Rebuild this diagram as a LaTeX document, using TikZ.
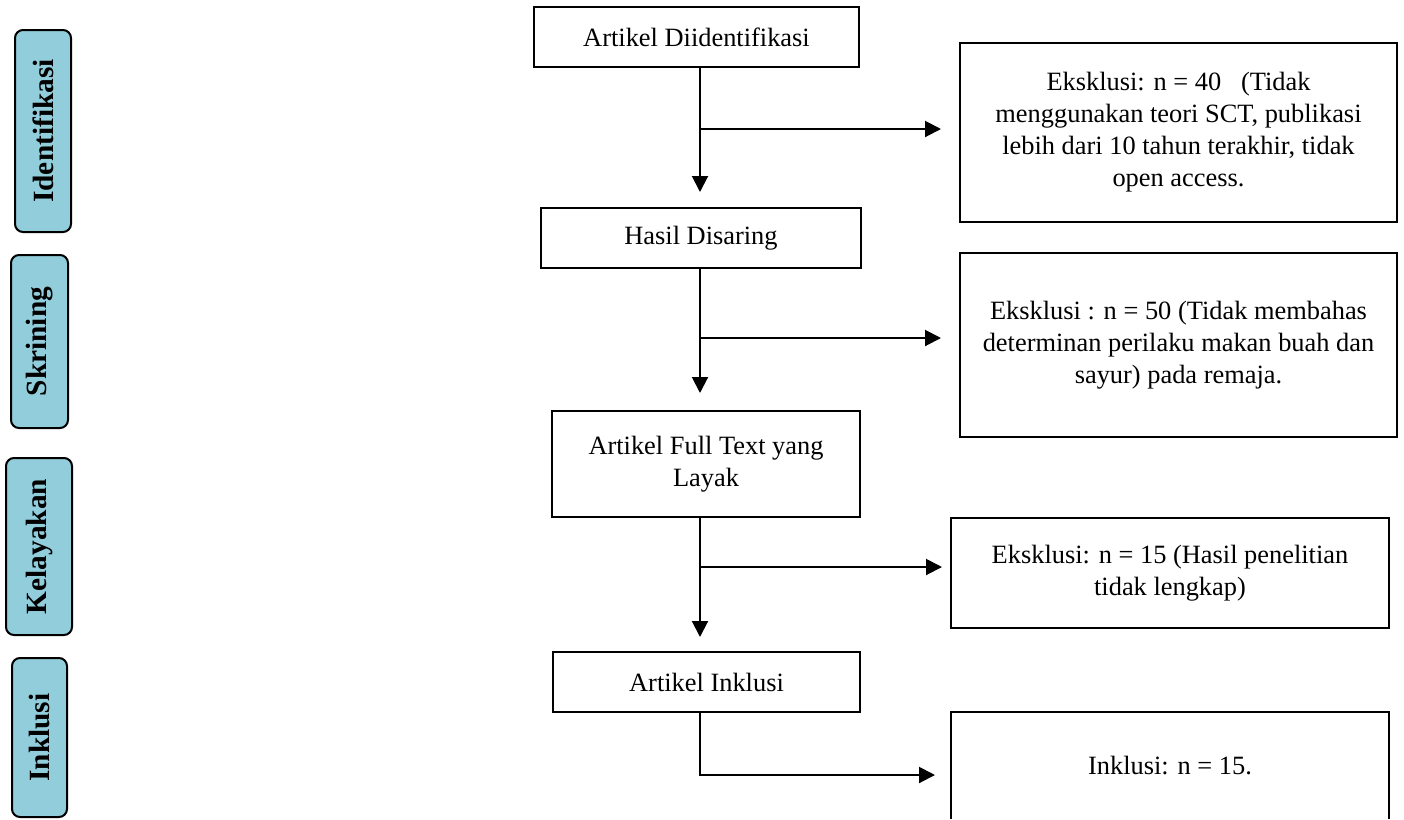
\documentclass[tikz,border=0pt]{standalone}
\usepackage{fontspec}
\setmainfont{Liberation Serif}
\usetikzlibrary{arrows.meta,calc}
\definecolor{lblue}{RGB}{146,205,220}
\tikzset{
  box/.style={draw, line width=1.5pt, inner sep=0pt, outer sep=0pt, align=center,
    font=\fontsize{19.8}{24}\selectfont},
  lbl/.style={draw, line width=1.5pt, fill=lblue, rounded corners=6pt, rotate=90,
    inner sep=0pt, outer sep=0pt, font=\fontsize{22}{26}\selectfont\bfseries},
  arr/.style={line width=1.5pt, -{Triangle[length=12pt,width=12pt]}},
}
\begin{document}
\begin{tikzpicture}[x=0.75pt,y=-0.75pt]
\useasboundingbox (0,0) rectangle (1404,819);
% phase labels
\node[lbl, minimum width=151.5pt, minimum height=42pt] (L1) at (43,131) {Identifikasi};
\node[lbl, minimum width=129.75pt, minimum height=42.75pt] (L2) at (39.5,341.5) {Skrining};
\node[lbl, minimum width=132.75pt, minimum height=49.5pt] (L3) at (39,546.5) {Kelayakan};
\node[lbl, minimum width=119.25pt, minimum height=41.25pt] (L4) at (39.5,737.5) {Inklusi};
% main column
\node[box, minimum width=243.75pt, minimum height=45pt] (A) at (696.5,37) {Artikel Diidentifikasi};
\node[box, minimum width=240pt, minimum height=45pt] (B) at (701,238) {Hasil Disaring};
\node[box, minimum width=231pt, minimum height=79.5pt] (C) at (706,464) {Artikel Full Text yang\\Layak};
\node[box, minimum width=230.25pt, minimum height=45pt] (D) at (706.5,682) {Artikel Inklusi};
% right column
\node[box, minimum width=327.75pt, minimum height=134.25pt] (E1) at (1178.5,132.5)
  {Eksklusi: n = 40\ \ \ (Tidak\\menggunakan teori SCT, publikasi\\lebih dari 10 tahun terakhir, tidak\\open access.};
\node[box, minimum width=327.75pt, minimum height=138pt] (E2) at (1178.5,345)
  {Eksklusi : n = 50 (Tidak membahas\\determinan perilaku makan buah dan\\sayur) pada remaja.};
\node[box, minimum width=328.5pt, minimum height=82.5pt] (E3) at (1170,573)
  {Eksklusi: n = 15 (Hasil penelitian\\tidak lengkap)};
\node[box, draw=none, minimum width=328.5pt, minimum height=80.25pt] (E4) at (1170,765.5)
  {Inklusi: n = 15.};
\draw[line width=1.5pt] (E4.south west) -- (E4.north west) -- (E4.north east) -- (E4.south east);
% connectors
\coordinate (t) at (700,0);
\coordinate (j1) at (700,129);
\coordinate (j2) at (700,338);
\coordinate (j3) at (700,567);
\coordinate (j4) at (700,775);
\draw[arr, shorten >=12pt] (A.south -| t) -- (B.north -| t);
\draw[arr, shorten >=14.25pt] (j1) -- (j1 -| E1.west);
\draw[arr, shorten >=13.5pt] (B.south -| t) -- (C.north -| t);
\draw[arr, shorten >=14.25pt] (j2) -- (j2 -| E2.west);
\draw[arr, shorten >=11.25pt] (C.south -| t) -- (D.north -| t);
\draw[arr, shorten >=6.75pt] (j3) -- (j3 -| E3.west);
\draw[arr, shorten >=12pt] (D.south -| t) -- (j4) -- (j4 -| E4.west);
\end{tikzpicture}
\end{document}
